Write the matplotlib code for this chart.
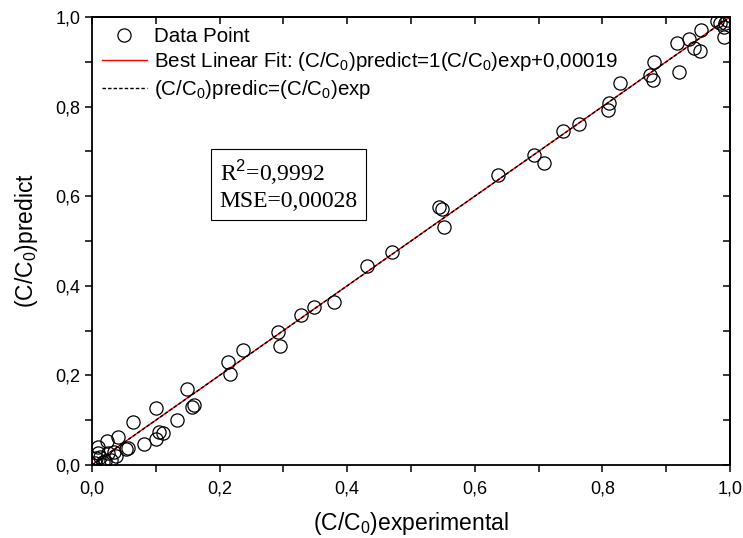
import numpy as np
import matplotlib
matplotlib.use("Agg")
import matplotlib.pyplot as plt
from matplotlib.lines import Line2D
from matplotlib.ticker import MultipleLocator, FuncFormatter

plt.rcParams['font.family'] = ['Liberation Sans', 'DejaVu Sans']
plt.rcParams['mathtext.fontset'] = 'custom'
plt.rcParams['mathtext.rm'] = 'Liberation Sans'
plt.rcParams['mathtext.it'] = 'Liberation Sans'

# (C/C0) experimental vs predicted
c_exp = [0.004, 0.007, 0.009, 0.010, 0.017, 0.023, 0.025, 0.030, 0.034, 0.041,
         0.054, 0.056, 0.064, 0.081, 0.100, 0.100, 0.105, 0.111, 0.133, 0.149,
         0.157, 0.160, 0.213, 0.216, 0.236, 0.292, 0.295, 0.327, 0.348, 0.380,
         0.431, 0.470, 0.544, 0.548, 0.552, 0.637, 0.693, 0.708, 0.739, 0.764,
         0.808, 0.810, 0.828, 0.875, 0.879, 0.881, 0.917, 0.920, 0.936, 0.943,
         0.953, 0.955, 0.979, 0.984, 0.990, 0.991, 0.992, 0.995, 0.002, 0.012,
         0.020, 0.038]
c_pred = [0.005, 0.015, 0.027, 0.041, 0.007, 0.053, 0.026, 0.011, 0.030, 0.063,
          0.035, 0.038, 0.095, 0.047, 0.127, 0.059, 0.074, 0.072, 0.100, 0.170,
          0.129, 0.135, 0.230, 0.204, 0.256, 0.297, 0.266, 0.334, 0.353, 0.363,
          0.444, 0.475, 0.576, 0.572, 0.531, 0.647, 0.693, 0.673, 0.745, 0.762,
          0.792, 0.809, 0.852, 0.871, 0.859, 0.900, 0.942, 0.878, 0.952, 0.930,
          0.923, 0.971, 0.990, 0.987, 0.977, 0.956, 0.986, 0.993, 0.001, 0.018,
          0.010, 0.020]

fit_slope = 1.0
fit_intercept = 0.00019
r2_text = "0,9992"
mse_text = "0,00028"

fig = plt.figure(figsize=(7.43, 5.38), dpi=100)
ax = fig.add_axes([92 / 743, 1 - 465 / 538, 638 / 743, 448 / 538])

xs = np.array([0.0, 1.0])
ax.plot(xs, fit_slope * xs + fit_intercept, color='red', lw=1.0, zorder=2)
ax.plot(xs, xs, color='black', lw=1.0, ls=(0, (2.5, 1.5)), zorder=3)
ax.plot(c_exp, c_pred, 'o', mfc='none', mec='black', ms=9.5, mew=0.9, zorder=4)

ax.set_xlim(0, 1)
ax.set_ylim(0, 1)

comma = FuncFormatter(lambda v, p: f"{v:.1f}".replace('.', ','))
for axis in (ax.xaxis, ax.yaxis):
    axis.set_major_locator(MultipleLocator(0.2))
    axis.set_minor_locator(MultipleLocator(0.1))
    axis.set_major_formatter(comma)
ax.tick_params(which='both', direction='out', length=5, width=1.1,
               labelsize=13, top=False, right=False)
ax.tick_params(axis='x', pad=6)

# mirrored inward ticks on top and right
top = ax.secondary_xaxis('top')
right = ax.secondary_yaxis('right')
for sec in (top, right):
    sec.tick_params(which='both', direction='in', length=5, width=1.1,
                    labeltop=False, labelright=False)
top.xaxis.set_major_locator(MultipleLocator(0.1))
top.xaxis.set_minor_locator(MultipleLocator(0.1))
right.yaxis.set_major_locator(MultipleLocator(0.1))
top.set_xticklabels([])
right.set_yticklabels([])
top.spines['top'].set_linewidth(1.3)
right.spines['right'].set_linewidth(1.3)
for s in ax.spines.values():
    s.set_linewidth(1.3)

ax.set_xlabel('(C/C$_0$)experimental', fontsize=16.5, labelpad=9)
ax.set_ylabel('(C/C$_0$)predict', fontsize=16.5, labelpad=11)

handles = [
    Line2D([], [], ls='none', marker='o', mfc='none', mec='black', ms=9.5, mew=0.9),
    Line2D([], [], color='red', lw=1.0),
    Line2D([], [], color='black', lw=1.0, ls=(0, (2.5, 1.5))),
]
labels = ['Data Point',
          'Best Linear Fit: (C/C$_0$)predict=1(C/C$_0$)exp+0,00019',
          '(C/C$_0$)predic=(C/C$_0$)exp']
ax.legend(handles, labels, loc='upper left', bbox_to_anchor=(0.0, 1.0),
          frameon=False, fontsize=14.8, handlelength=2.2, handletextpad=0.35,
          borderpad=0.2, borderaxespad=0.28, labelspacing=0.22)

ax.text(0.2, 0.625, f"R$^2$={r2_text}\nMSE={mse_text}",
        transform=ax.transAxes, va='center', ha='left', fontsize=17,
        family=['Liberation Serif', 'DejaVu Serif'], linespacing=1.25,
        bbox=dict(boxstyle='square,pad=0.35', fc='white', ec='black', lw=0.8))

fig.savefig('out.png', dpi=100)
